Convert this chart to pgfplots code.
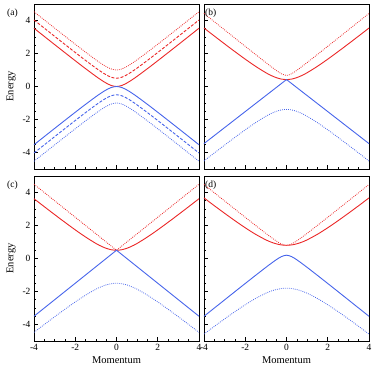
\documentclass[border=0pt]{standalone}
\usepackage{fontspec}
\setmainfont{Liberation Serif}
\usepackage{pgfplots}
\usepackage{pgfplotstable}
\pgfplotsset{compat=1.18}
\usepgfplotslibrary{groupplots}
\definecolor{cred}{RGB}{235,40,40}
\definecolor{cblue}{RGB}{70,100,235}

% panel (a): solid / dashed / dotted, red above and blue below
\pgfplotstableread{
x      r1     r2     r3     b1      b2      b3
-4     3.531  4.031  4.531  -3.531  -4.031  -4.531
-3.5   3.036  3.536  4.036  -3.036  -3.536  -4.036
-3     2.541  3.041  3.541  -2.541  -3.041  -3.541
-2.5   2.050  2.550  3.050  -2.050  -2.550  -3.050
-2     1.562  2.062  2.562  -1.562  -2.062  -2.562
-1.5   1.081  1.581  2.081  -1.081  -1.581  -2.081
-1     0.618  1.118  1.618  -0.618  -1.118  -1.618
-0.75  0.401  0.901  1.401  -0.401  -0.901  -1.401
-0.5   0.207  0.707  1.207  -0.207  -0.707  -1.207
-0.25  0.059  0.559  1.059  -0.059  -0.559  -1.059
0      0.000  0.500  1.000   0.000  -0.500  -1.000
0.25   0.059  0.559  1.059  -0.059  -0.559  -1.059
0.5    0.207  0.707  1.207  -0.207  -0.707  -1.207
0.75   0.401  0.901  1.401  -0.401  -0.901  -1.401
1      0.618  1.118  1.618  -0.618  -1.118  -1.618
1.5    1.081  1.581  2.081  -1.081  -1.581  -2.081
2      1.562  2.062  2.562  -1.562  -2.062  -2.562
2.5    2.050  2.550  3.050  -2.050  -2.550  -3.050
3      2.541  3.041  3.541  -2.541  -3.041  -3.541
3.5    3.036  3.536  4.036  -3.036  -3.536  -4.036
4      3.531  4.031  4.531  -3.531  -4.031  -4.531
}\dataA

% panels (b)-(d): rs/bs solid, rd/bd dotted
\pgfplotstableread{
x      rs     bs      rd     bd
-4     3.543  -3.460  4.428  -4.513
-3.5   3.060  -2.975  3.929  -4.030
-3     2.582  -2.490  3.430  -3.552
-2.5   2.113  -2.005  2.932  -3.083
-2     1.656  -1.520  2.436  -2.626
-1.5   1.223  -1.035  1.941  -2.193
-1     0.834  -0.550  1.451  -1.804
-0.75  0.670  -0.308  1.211  -1.640
-0.5   0.538  -0.065  0.979  -1.508
-0.25  0.451   0.178  0.774  -1.421
0      0.420   0.420  0.670  -1.390
0.25   0.451   0.178  0.774  -1.421
0.5    0.538  -0.065  0.979  -1.508
0.75   0.670  -0.308  1.211  -1.640
1      0.834  -0.550  1.451  -1.804
1.5    1.223  -1.035  1.941  -2.193
2      1.656  -1.520  2.436  -2.626
2.5    2.113  -2.005  2.932  -3.083
3      2.582  -2.490  3.430  -3.552
3.5    3.060  -2.975  3.929  -4.030
4      3.543  -3.460  4.428  -4.513
}\dataB

\pgfplotstableread{
x      rs     bs      rd     bd
-4     3.623  -3.500  4.500  -4.476
-3.5   3.140  -3.000  4.000  -4.000
-3     2.662  -2.500  3.500  -3.531
-2.5   2.193  -2.000  3.000  -3.073
-2     1.736  -1.500  2.500  -2.632
-1.5   1.303  -1.000  2.000  -2.221
-1     0.914  -0.500  1.500  -1.862
-0.75  0.750  -0.250  1.250  -1.715
-0.5   0.618   0.000  1.000  -1.600
-0.25  0.531   0.250  0.750  -1.526
0      0.500   0.500  0.500  -1.500
0.25   0.531   0.250  0.750  -1.526
0.5    0.618   0.000  1.000  -1.600
0.75   0.750  -0.250  1.250  -1.715
1      0.914  -0.500  1.500  -1.862
1.5    1.303  -1.000  2.000  -2.221
2      1.736  -1.500  2.500  -2.632
2.5    2.193  -2.000  3.000  -3.073
3      2.662  -2.500  3.500  -3.531
3.5    3.140  -3.000  4.000  -4.000
4      3.623  -3.500  4.500  -4.476
}\dataC

\pgfplotstableread{
x      rs     bs      rd     bd
-4     3.672  -3.502  4.484  -4.579
-3.5   3.201  -3.004  3.986  -4.114
-3     2.740  -2.506  3.488  -3.660
-2.5   2.291  -2.009  2.992  -3.220
-2     1.863  -1.514  2.497  -2.804
-1.5   1.468  -1.022  2.006  -2.424
-1     1.130  -0.537  1.523  -2.104
-0.75  0.994  -0.302  1.289  -1.978
-0.5   0.890  -0.078  1.069  -1.882
-0.25  0.823   0.112  0.884  -1.821
0      0.800   0.200  0.800  -1.800
0.25   0.823   0.112  0.884  -1.821
0.5    0.890  -0.078  1.069  -1.882
0.75   0.994  -0.302  1.289  -1.978
1      1.130  -0.537  1.523  -2.104
1.5    1.468  -1.022  2.006  -2.424
2      1.863  -1.514  2.497  -2.804
2.5    2.291  -2.009  2.992  -3.220
3      2.740  -2.506  3.488  -3.660
3.5    3.201  -3.004  3.986  -4.114
4      3.672  -3.502  4.484  -4.579
}\dataD

\pgfplotsset{
  solidline/.style={line width=0.9bp, no marks, smooth},
  dashline/.style={line width=0.9bp, no marks, smooth, dash pattern=on 3bp off 1.6bp},
  dotline/.style={line width=0.8bp, no marks, smooth, dash pattern=on 0.8bp off 1.2bp},
}

\begin{document}
\begin{tikzpicture}
\begin{groupplot}[
    group style={group size=2 by 2, horizontal sep=5bp, vertical sep=7bp,
        xticklabels at=edge bottom, yticklabels at=edge left, group name=G},
    scale only axis, width=165bp, height=165bp,
    xmin=-4, xmax=4, ymin=-5, ymax=5,
    xtick={-4,-2,0,2,4}, ytick={-4,-2,0,2,4},
    minor tick num=3, tick pos=left,
    major tick length=4bp, minor tick length=2bp,
    tick style={black, line width=0.6bp},
    axis line style={line width=0.9bp},
    clip=false,
    /pgf/number format/assume math mode=true,
    tick label style={font=\fontsize{9.5}{11}\selectfont},
    label style={font=\fontsize{10.5}{12}\selectfont},
    xlabel style={yshift=1bp},
]
\nextgroupplot[ylabel={Energy}]
\addplot[cred, dotline] table[x=x, y=r3] {\dataA};
\addplot[cred, dashline] table[x=x, y=r2] {\dataA};
\addplot[cred, solidline] table[x=x, y=r1] {\dataA};
\addplot[cblue, dotline] table[x=x, y=b3] {\dataA};
\addplot[cblue, dashline] table[x=x, y=b2] {\dataA};
\addplot[cblue, solidline] table[x=x, y=b1] {\dataA};

\nextgroupplot
\addplot[cred, dotline] table[x=x, y=rd] {\dataB};
\addplot[cred, solidline] table[x=x, y=rs] {\dataB};
\addplot[cblue, dotline] table[x=x, y=bd] {\dataB};
\addplot[cblue, solidline, sharp plot] table[x=x, y=bs] {\dataB};

\nextgroupplot[ylabel={Energy}, xlabel={Momentum}]
\addplot[cred, dotline, sharp plot] table[x=x, y=rd] {\dataC};
\addplot[cred, solidline] table[x=x, y=rs] {\dataC};
\addplot[cblue, dotline] table[x=x, y=bd] {\dataC};
\addplot[cblue, solidline, sharp plot] table[x=x, y=bs] {\dataC};

\nextgroupplot[xlabel={Momentum}]
\addplot[cred, dotline] table[x=x, y=rd] {\dataD};
\addplot[cred, solidline] table[x=x, y=rs] {\dataD};
\addplot[cblue, dotline] table[x=x, y=bd] {\dataD};
\addplot[cblue, solidline] table[x=x, y=bs] {\dataD};
\end{groupplot}
\begin{scope}[every node/.style={anchor=north west, inner sep=0pt, font=\fontsize{9.5}{11}\selectfont}]
\node at ([shift={(-27bp,-5bp)}]G c1r1.north west) {(a)};
\node at ([shift={(1bp,-5bp)}]G c2r1.north west) {(b)};
\node at ([shift={(-27bp,-5bp)}]G c1r2.north west) {(c)};
\node at ([shift={(1bp,-5bp)}]G c2r2.north west) {(d)};
\end{scope}
\pgfresetboundingbox
\path ([shift={(-34bp,4bp)}]G c1r1.north west) rectangle ([shift={(340bp,-370bp)}]G c1r1.north west);
\end{tikzpicture}
\end{document}
